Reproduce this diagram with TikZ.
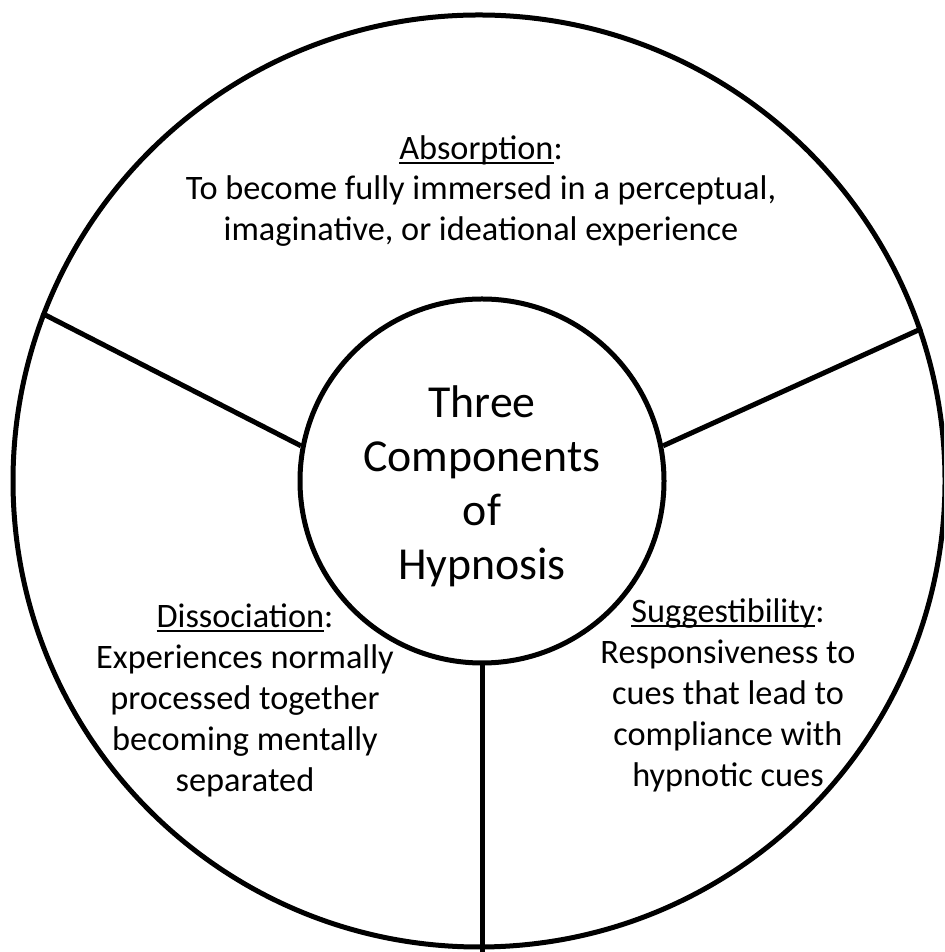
\documentclass[tikz,border=0pt]{standalone}
\usepackage{fontspec}
\setmainfont{Carlito}
\newcommand\ulword[1]{\leavevmode\setbox0=\hbox{#1}\rlap{\rule[-4.5pt]{\wd0}{2pt}}\box0}
\begin{document}
\begin{tikzpicture}[x=1pt,y=1pt,
  ring/.style={draw=black,line width=5pt,circle,inner sep=0pt},
  divider/.style={draw=black,line width=5pt},
  body/.style={align=center,font=\fontsize{34.3}{40.5}\selectfont,inner sep=0pt},
  sidebody/.style={align=center,font=\fontsize{34.3}{41}\selectfont,inner sep=0pt},
  hubtext/.style={align=center,font=\fontsize{45.8}{54}\selectfont,inner sep=0pt}]
\useasboundingbox (0,0) rectangle (944,952);
\fill[white] (0,0) rectangle (944,952);
\clip (0,0) rectangle (944,952);
\node[ring,minimum size=932pt] (rim) at (479,471) {};
\node[ring,minimum size=364pt] (hub) at (482,471) {};
\draw[divider] (hub.169) -- (rim.159.3);
\draw[divider] (hub.11.7) -- (rim.19.9);
\coordinate (bottomend) at (482,-5);
\draw[divider] (hub.south) -- (bottomend);
\node[hubtext] (title) at (482,466) {Three\\Components\\of\\Hypnosis};
\node[body] (absorption) at (481,761) {\ulword{Absorption}:\\To become fully immersed in a perceptual,\\imaginative, or ideational experience};
\node[sidebody] (dissociation) at (245,252) {\ulword{Dissociation}:\\Experiences normally\\processed together\\becoming mentally\\separated};
\node[sidebody] (suggestibility) at (728,257) {\ulword{Suggestibility}:\\Responsiveness to\\cues that lead to\\compliance with\\hypnotic cues};
\end{tikzpicture}
\end{document}
